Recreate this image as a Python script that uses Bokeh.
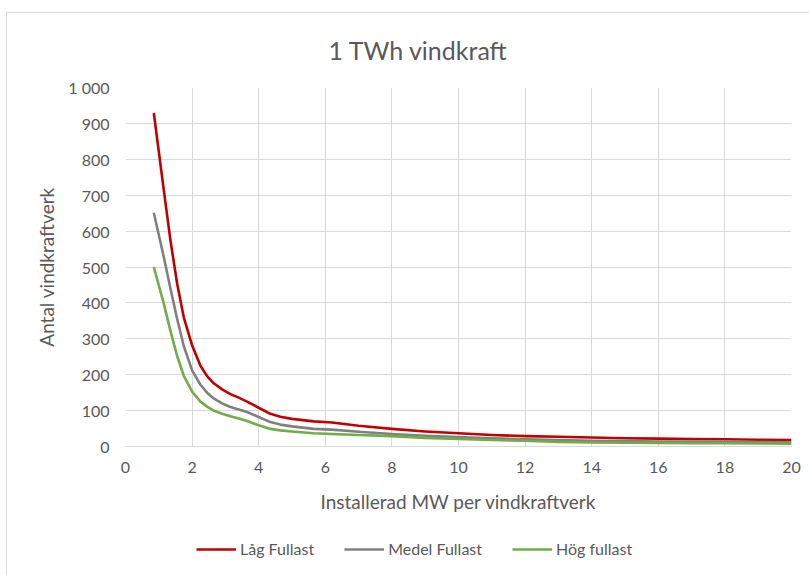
from bokeh.plotting import figure
from bokeh.layouts import column
from bokeh.models import FixedTicker, Legend, LegendItem, ColumnDataSource
from bokeh.embed import file_html
from bokeh.resources import INLINE

# ---- data ----
mw = [0.85, 1.15, 1.35, 1.55, 1.75, 2.0, 2.25, 2.45, 2.65, 2.9, 3.15, 3.4, 3.65, 4.0, 4.35,
      4.65, 5.0, 5.65, 6.2, 7, 8, 9, 10, 11, 12, 13, 14, 15, 16, 17, 18, 19, 20]
lag_fullast = [929, 714, 574, 454, 360, 282, 225, 196, 176, 159, 146, 136, 125, 108, 91,
               83, 77, 70, 67, 58, 49, 42, 37, 32, 29, 27, 25, 23, 22, 21, 20, 19, 18]
medel_fullast = [651, 528, 440, 356, 280, 212, 172, 150, 134, 120, 110, 103, 96, 82, 68,
                 61, 56, 49, 47, 41, 35, 30, 26, 23, 20, 18, 16, 15, 14, 13.5, 13, 12.5, 12]
hog_fullast = [500, 398, 322, 252, 197, 153, 125, 111, 100, 91, 84, 78, 71, 59, 49,
               45, 42, 37, 35, 32, 29, 24, 21, 18, 16, 13, 11, 10.5, 10, 9.5, 9, 8.5, 8]

series_names = ["Låg Fullast", "Medel Fullast", "Hög fullast"]
series_colors = ["#c00000", "#808080", "#70ad47"]

x_ticks = [0, 2, 4, 6, 8, 10, 12, 14, 16, 18, 20]
y_ticks = [0, 100, 200, 300, 400, 500, 600, 700, 800, 900, 1000]
y_tick_labels = ["0", "100", "200", "300", "400", "500", "600", "700", "800", "900", "1 000"]

title_text = "1 TWh vindkraft"
x_title = "Installerad MW per vindkraftverk"
y_title = "Antal vindkraftverk"

FONT = "Lato"
TXT = "#595959"
GRID = "#d9d9d9"

fig = figure(width=802, height=518, output_backend="svg", toolbar_location=None,
             x_range=(0, 20), y_range=(0, 1000),
             frame_width=666, frame_height=359,
             min_border_left=118, min_border_right=18, min_border_top=74, min_border_bottom=85,
             title=title_text)

fig.title.align = "left"
fig.title.offset = 203
fig.title.vertical_align = "top"
fig.title.text_font = FONT
fig.title.text_font_size = "25px"
fig.title.text_font_style = "normal"
fig.title.text_color = TXT
fig.title.standoff = 42

fig.outline_line_color = None
fig.background_fill_color = "white"
fig.border_fill_color = "white"

fig.xaxis.ticker = FixedTicker(ticks=x_ticks)
fig.yaxis.ticker = FixedTicker(ticks=y_ticks)
fig.yaxis.major_label_overrides = {t: l for t, l in zip(y_ticks, y_tick_labels)}
for ax in (fig.xaxis[0], fig.yaxis[0]):
    ax.major_tick_line_color = None
    ax.minor_tick_line_color = None
    ax.axis_line_color = GRID
    ax.major_label_text_font = FONT
    ax.major_label_text_font_size = "16px"
    ax.major_label_text_color = TXT
    ax.axis_label_text_font = FONT
    ax.axis_label_text_font_size = "19px"
    ax.axis_label_text_font_style = "normal"
    ax.axis_label_text_color = TXT
fig.xaxis.axis_label = x_title
fig.yaxis.axis_label = y_title
fig.xaxis.major_label_standoff = 9
fig.yaxis.major_label_standoff = 10
fig.xaxis.axis_label_standoff = 14
fig.yaxis.axis_label_standoff = 7
fig.yaxis.axis_line_color = None

fig.xgrid.grid_line_color = GRID
fig.ygrid.grid_line_color = GRID

all_series = [lag_fullast, medel_fullast, hog_fullast]
for name, col, ys in zip(series_names, series_colors, all_series):
    src = ColumnDataSource(dict(x=mw, y=ys))
    fig.line("x", "y", source=src, line_color=col, line_width=2.6, line_join="round")

# legend strip below the chart (its own lines lie outside its tiny 0..1 ranges)
lf = figure(width=802, height=44, output_backend="svg", toolbar_location=None,
            x_axis_type=None, y_axis_type=None, x_range=(0, 0.5), y_range=(0, 1),
            min_border_left=0, min_border_right=0, min_border_top=0, min_border_bottom=0)
lf.outline_line_color = None
lf.background_fill_color = "white"
lf.border_fill_color = "white"
items = []
for name, col, ys in zip(series_names, series_colors, all_series):
    r = lf.line(x=mw, y=ys, line_color=col, line_width=2.6)
    items.append(LegendItem(label=name, renderers=[r]))
legend = Legend(items=items, orientation="horizontal", location=(71, 17),
                label_text_font=FONT, label_text_font_size="16px", label_text_color=TXT,
                glyph_width=40, glyph_height=16, spacing=30, label_standoff=4,
                border_line_color=None, background_fill_alpha=0, margin=0, padding=0)
lf.add_layout(legend, "center")

p = column(fig, lf, spacing=0)
p.margin = (12, 0, 0, 6)
p.styles = {"border-left": "1px solid #d9d9d9", "border-top": "1px solid #d9d9d9"}

open("out.html", "w").write(file_html(p, INLINE))
